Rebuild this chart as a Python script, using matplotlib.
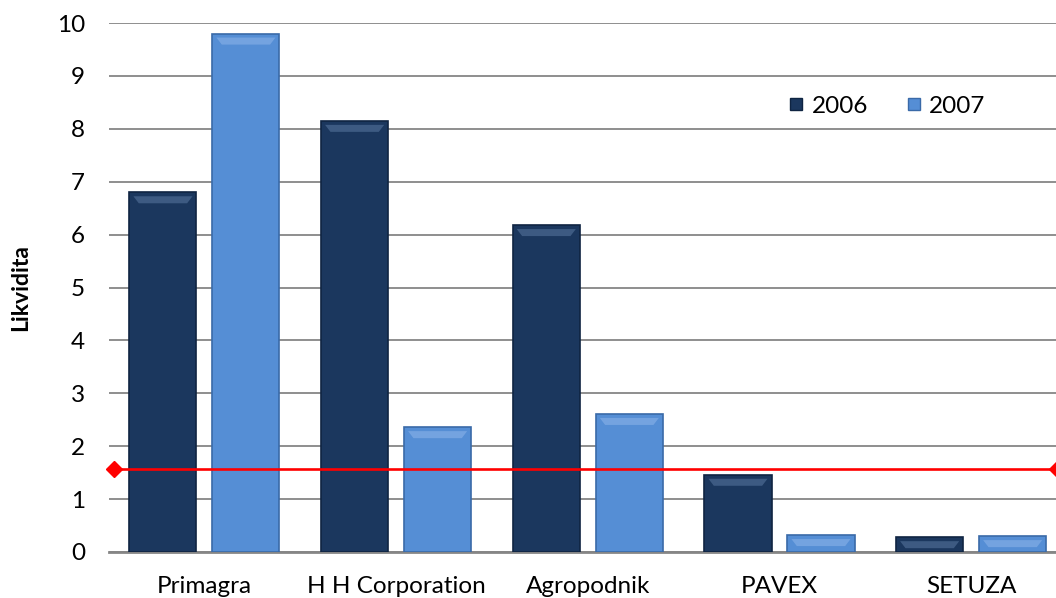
import numpy as np
import matplotlib.pyplot as plt
from matplotlib.patches import Polygon
from matplotlib.lines import Line2D

plt.rcParams['font.family'] = ['Lato', 'DejaVu Sans']

# data
companies = ['Primagra', 'H H Corporation', 'Agropodnik', 'PAVEX', 'SETUZA']
values_2006 = [6.8, 8.15, 6.18, 1.46, 0.28]
values_2007 = [9.8, 2.36, 2.61, 0.32, 0.30]
threshold = 1.56
years = ['2006', '2007']

dark = '#1B375E'
light = '#558ED5'
dark_edge = '#0F2442'
light_edge = '#3A6AA8'
dark_hi = '#46648C'
light_hi = '#7DA9E3'

fig = plt.figure(figsize=(10.56, 5.98), dpi=100)
ax = fig.add_axes([108.6 / 1056, 46 / 598, 958.4 / 1056, 529 / 598])

x = np.arange(len(companies))
w = 0.35
off = 0.2165

bars1 = ax.bar(x - off, values_2006, w, color=dark, edgecolor=dark_edge, linewidth=1.2, zorder=3)
bars2 = ax.bar(x + off, values_2007, w, color=light, edgecolor=light_edge, linewidth=1.2, zorder=3)

# bevel highlight near top of each bar
px = 10 / 529
for bars, hi in [(bars1, dark_hi), (bars2, light_hi)]:
    for b in bars:
        x0 = b.get_x()
        bw = b.get_width()
        top = b.get_height()
        y1 = top - 4 * px
        y2 = top - 11 * px
        if y2 < 2 * px:
            y1 = top / 2 + 0.5 * px
            y2 = top / 2 - 0.5 * px
        poly = Polygon([(x0 + 0.06 * bw, y1), (x0 + 0.94 * bw, y1),
                        (x0 + 0.86 * bw, y2), (x0 + 0.14 * bw, y2)],
                       closed=True, facecolor=hi, edgecolor='none', alpha=0.8, zorder=4)
        ax.add_patch(poly)

# red threshold line
ax.plot([-0.47, 4.45], [threshold, threshold], color='#FF0000', linewidth=1.9,
        marker='D', markersize=8, zorder=5, clip_on=False)

ax.set_xlim(-0.5, 4.5)
ax.set_ylim(0, 10)
ax.set_yticks(range(0, 11))
ax.set_xticks(x)
ax.set_xticklabels(companies)
ax.yaxis.grid(True, color='#868686', linewidth=1.3, zorder=0)
ax.set_axisbelow(True)
for s in ['top', 'right', 'left']:
    ax.spines[s].set_visible(False)
ax.spines['bottom'].set_color('#868686')
ax.spines['bottom'].set_linewidth(2)
ax.tick_params(axis='both', length=0, labelsize=17.5, colors='#000000')
ax.tick_params(axis='y', pad=17)
ax.tick_params(axis='x', pad=17)

fig.text(21 / 1056, 1 - 288 / 598, 'Likvidita', rotation=90, fontsize=16.5,
         fontweight='bold', ha='center', va='center')

handles = [Line2D([], [], linestyle='none', marker='s', markersize=9,
                  markerfacecolor=dark, markeredgecolor=dark_edge),
           Line2D([], [], linestyle='none', marker='s', markersize=9,
                  markerfacecolor=light, markeredgecolor=light_edge)]
fig.legend(handles, years, loc='center left', bbox_to_anchor=(766 / 1056, 1 - 106 / 598),
           ncol=2, frameon=False, fontsize=17.5, handlelength=0.7, handletextpad=0.3,
           columnspacing=1.5)

fig.savefig('out.png', dpi=100)
